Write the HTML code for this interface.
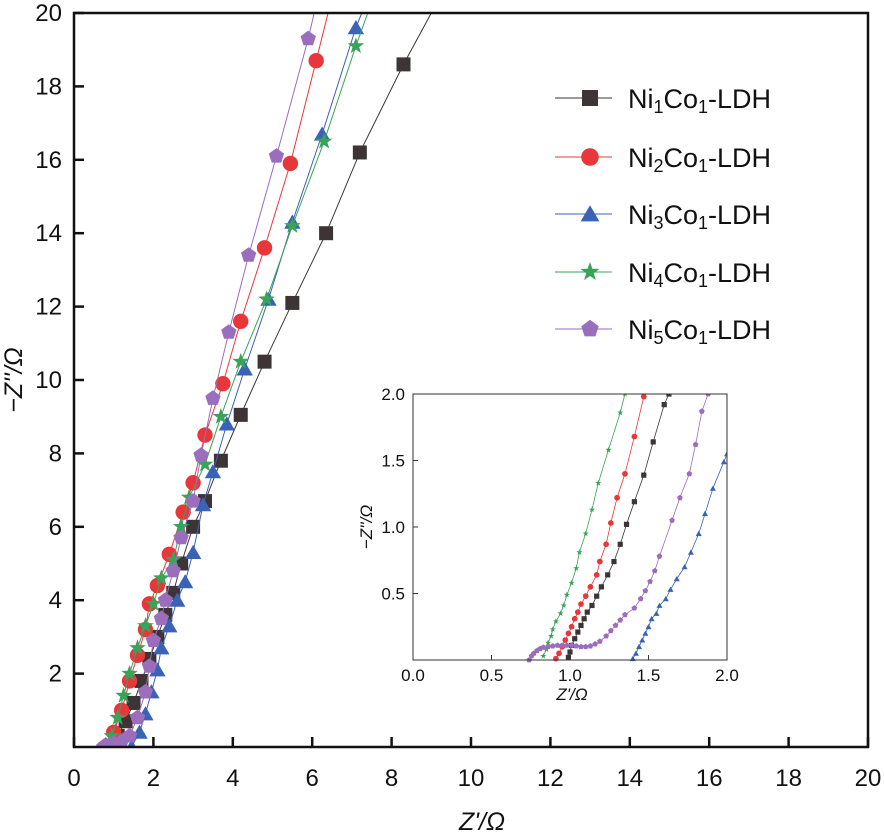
<!DOCTYPE html>
<html><head><meta charset="utf-8"><style>
body{margin:0;background:#fff}
svg text{font-family:"Liberation Sans",Arial,sans-serif;fill:#111}
</style></head><body>
<svg id="chart" width="884" height="833" xmlns="http://www.w3.org/2000/svg"></svg>
<script>
const seriesNames=["Ni1Co1-LDH","Ni2Co1-LDH","Ni3Co1-LDH","Ni4Co1-LDH","Ni5Co1-LDH"];
const colors=["#3d3535","#e8373a","#3a63b5","#3aa35a","#9a6dbd"];
const shapes=["square","circle","triangle","star","pentagon"];
const xTicks=[0,2,4,6,8,10,12,14,16,18,20];
const yTicks=[2,4,6,8,10,12,14,16,18,20];
const insetXTicks=[0,0.5,1.0,1.5,2.0];
const insetYTicks=[0.5,1.0,1.5,2.0];
const main1=[[1.0,0],[1.1,0.3],[1.3,0.7],[1.5,1.2],[1.7,1.8],[1.9,2.4],[2.1,3.0],[2.3,3.6],[2.5,4.2],[2.7,5.0],[3.0,6.0],[3.3,6.7],[3.7,7.8],[4.2,9.05],[4.8,10.5],[5.5,12.1],[6.35,14.0],[7.2,16.2],[8.3,18.6],[9.0,20]];
const main2=[[0.93,0],[1.0,0.4],[1.2,1.0],[1.4,1.8],[1.6,2.5],[1.8,3.2],[1.9,3.9],[2.1,4.4],[2.4,5.25],[2.75,6.4],[3.0,7.2],[3.3,8.5],[3.75,9.9],[4.2,11.6],[4.8,13.6],[5.45,15.9],[6.1,18.7],[6.4,20]];
const main3=[[1.45,0],[1.65,0.4],[1.8,0.9],[1.95,1.5],[2.1,2.1],[2.2,2.7],[2.4,3.3],[2.6,4.0],[2.8,4.5],[3.0,5.3],[3.25,6.6],[3.5,7.5],[3.85,8.8],[4.3,10.3],[4.9,12.2],[5.5,14.3],[6.25,16.7],[7.1,19.6],[7.25,20]];
const main4=[[0.85,0],[0.95,0.3],[1.1,0.8],[1.25,1.4],[1.4,2.0],[1.6,2.7],[1.8,3.3],[2.0,3.9],[2.2,4.6],[2.5,5.1],[2.7,6.0],[2.9,6.8],[3.3,7.7],[3.7,9.0],[4.2,10.5],[4.85,12.2],[5.5,14.2],[6.3,16.5],[7.1,19.1],[7.4,20]];
const main5=[[0.75,0],[0.8,0.05],[1.0,0.1],[1.2,0.15],[1.4,0.3],[1.6,0.8],[1.8,1.5],[1.9,2.2],[2.0,2.9],[2.2,3.5],[2.3,4.0],[2.5,4.8],[2.7,5.7],[3.0,6.7],[3.2,7.95],[3.5,9.5],[3.9,11.3],[4.4,13.4],[5.1,16.1],[5.9,19.3],[6.05,20]];
const inset1=[[0.99,0.02],[1.0,0.06],[1.01,0.11],[1.03,0.16],[1.05,0.21],[1.07,0.26],[1.09,0.31],[1.11,0.36],[1.14,0.41],[1.17,0.48],[1.2,0.55],[1.24,0.64],[1.28,0.74],[1.32,0.87],[1.36,1.02],[1.41,1.19],[1.47,1.39],[1.53,1.64],[1.6,1.92],[1.63,2.0]];
const inset2=[[0.91,0.01],[0.93,0.05],[0.95,0.1],[0.97,0.15],[0.99,0.2],[1.01,0.25],[1.03,0.31],[1.05,0.36],[1.07,0.42],[1.1,0.48],[1.13,0.55],[1.17,0.64],[1.19,0.74],[1.23,0.87],[1.26,1.03],[1.3,1.22],[1.35,1.4],[1.41,1.68],[1.47,1.98]];
const inset3=[[1.4,0.01],[1.42,0.05],[1.44,0.1],[1.46,0.15],[1.48,0.2],[1.5,0.25],[1.52,0.31],[1.55,0.35],[1.57,0.41],[1.61,0.46],[1.64,0.53],[1.68,0.61],[1.73,0.7],[1.77,0.81],[1.82,0.95],[1.86,1.1],[1.91,1.29],[1.98,1.49],[2.0,1.55]];
const inset4=[[0.83,0.03],[0.85,0.08],[0.86,0.13],[0.88,0.18],[0.89,0.23],[0.91,0.29],[0.94,0.35],[0.96,0.41],[0.98,0.49],[1.01,0.58],[1.04,0.69],[1.06,0.81],[1.1,0.95],[1.14,1.13],[1.18,1.33],[1.245,1.58],[1.32,1.86],[1.35,2.0]];
const inset5=[[0.74,0],[0.755,0.03],[0.77,0.05],[0.79,0.07],[0.81,0.085],[0.83,0.095],[0.86,0.1],[0.89,0.105],[0.92,0.11],[0.95,0.11],[0.98,0.11],[1.01,0.11],[1.04,0.105],[1.07,0.1],[1.1,0.1],[1.13,0.105],[1.16,0.12],[1.19,0.14],[1.23,0.18],[1.26,0.22],[1.29,0.26],[1.32,0.3],[1.35,0.34],[1.41,0.39],[1.45,0.46],[1.48,0.52],[1.51,0.59],[1.54,0.67],[1.57,0.78],[1.65,1.05],[1.7,1.22],[1.76,1.4],[1.8,1.62],[1.84,1.87],[1.88,2.0]];
const mainData=[main1,main2,main3,main4,main5];
const insetData=[inset1,inset2,inset3,inset4,inset5];

const svg=document.getElementById('chart');
const NS="http://www.w3.org/2000/svg";
function mk(t,a,p){const e=document.createElementNS(NS,t);for(const k in a)e.setAttribute(k,a[k]);(p||svg).appendChild(e);return e;}
function marker(shape,cx,cy,r,col,parent){
  let e;
  if(shape==="square")e=mk('rect',{x:cx-r,y:cy-r,width:2*r,height:2*r,fill:col},parent);
  else if(shape==="circle")e=mk('circle',{cx:cx,cy:cy,r:r*1.1,fill:col},parent);
  else{
    let n=shape==="triangle"?3:shape==="pentagon"?5:10,pts=[];
    for(let i=0;i<n;i++){let a=-Math.PI/2+i*2*Math.PI/n;let rr=shape==="star"?(i%2?r*0.5:r*1.25):(shape==="triangle"?r*1.35:r*1.15);pts.push((cx+rr*Math.cos(a)).toFixed(1)+","+(cy+rr*Math.sin(a)+(shape==="triangle"?r*0.25:0)).toFixed(1));}
    e=mk('polygon',{points:pts.join(' '),fill:col},parent);
  }
  return e;
}
const M={x0:74,x1:868,y0:747,y1:13};
const mx=v=>M.x0+(v-0)/20*(M.x1-M.x0);
const my=v=>M.y0-(v/20)*(M.y0-M.y1);
const clipM=mk('clipPath',{id:'cm'});mk('rect',{x:M.x0,y:M.y1-10,width:M.x1-M.x0,height:M.y0-M.y1+10},clipM);
mainData.forEach((d,i)=>{
  const g=mk('g',{'clip-path':'url(#cm)'});
  
  
  mk('polyline',{points:d.map(p=>mx(p[0])+','+my(p[1])).join(' '),fill:'none',stroke:colors[i],'stroke-width':1},g);
  d.forEach(p=>{if(p[1]<20){const m=marker(shapes[i],mx(p[0]),my(p[1]),7,colors[i],g);}});
});
const frame=mk('rect',{x:M.x0,y:M.y1,width:M.x1-M.x0,height:M.y0-M.y1,fill:'none',stroke:'#111','stroke-width':2.5});

xTicks.forEach(t=>{const x=mx(t);mk('line',{x1:x,y1:M.y0,x2:x,y2:M.y0-10,stroke:'#111','stroke-width':2.5});
  const tx=mk('text',{x:x,y:786,'text-anchor':'middle','font-size':24});tx.textContent=t;});
yTicks.forEach(t=>{const y=my(t);mk('line',{x1:M.x0,y1:y,x2:M.x0+10,y2:y,stroke:'#111','stroke-width':2.5});
  const tx=mk('text',{x:62,y:y+8,'text-anchor':'end','font-size':24});tx.textContent=t;});
let xt=mk('text',{x:482,y:830,'text-anchor':'middle','font-size':25,'font-style':'italic'});xt.textContent="Z'/Ω";
let yt=mk('text',{x:22,y:380,'text-anchor':'middle','font-size':25,'font-style':'italic',transform:'rotate(-90 22 380)'});yt.textContent="−Z''/Ω";
const legY=[98,157,214,272,329];
seriesNames.forEach((n,i)=>{
  const g=mk('g',{});
  mk('line',{x1:555,y1:legY[i],x2:612,y2:legY[i],stroke:colors[i],'stroke-width':1},g);
  marker(shapes[i],590,legY[i],8,colors[i],g);
  const t=mk('text',{x:628,y:legY[i]+10,'font-size':27},g);
  const m=n.match(/Ni(\d)Co(\d)-LDH/);
  t.innerHTML='Ni<tspan font-size="18" dy="5">'+m[1]+'</tspan><tspan dy="-5">Co</tspan><tspan font-size="18" dy="5">'+m[2]+'</tspan><tspan dy="-5">-LDH</tspan>';
});
const I={x0:413,x1:727,y0:660,y1:394};
const ix=v=>I.x0+v/2*(I.x1-I.x0);
const iy=v=>I.y0-v/2*(I.y0-I.y1);
const bg=mk('rect',{x:I.x0,y:I.y1,width:I.x1-I.x0,height:I.y0-I.y1,fill:'#fff'});
const clipI=mk('clipPath',{id:'ci'});mk('rect',{x:I.x0,y:I.y1,width:I.x1-I.x0,height:I.y0-I.y1+4},clipI);
insetData.forEach((d,i)=>{
  const g=mk('g',{'clip-path':'url(#ci)'});
  
  
  mk('polyline',{points:d.map(p=>ix(p[0])+','+iy(p[1])).join(' '),fill:'none',stroke:colors[i],'stroke-width':0.8},g);
  d.forEach(p=>{const m=marker(shapes[i],ix(p[0]),iy(p[1]),2.6,colors[i],g);});
});
const iframe=mk('rect',{x:I.x0,y:I.y1,width:I.x1-I.x0,height:I.y0-I.y1,fill:'none',stroke:'#333','stroke-width':1});

insetXTicks.forEach(t=>{const x=ix(t);mk('line',{x1:x,y1:I.y0,x2:x,y2:I.y0-5,stroke:'#333'});
  const tx=mk('text',{x:x,y:681,'text-anchor':'middle','font-size':17});tx.textContent=t.toFixed(1);});
insetYTicks.forEach(t=>{const y=iy(t);mk('line',{x1:I.x0,y1:y,x2:I.x0+5,y2:y,stroke:'#333'});
  const tx=mk('text',{x:405,y:y+6,'text-anchor':'end','font-size':17});tx.textContent=t.toFixed(1);});
let ixt=mk('text',{x:572,y:700,'text-anchor':'middle','font-size':17,'font-style':'italic'});ixt.textContent="Z'/Ω";
let iyt=mk('text',{x:372,y:527,'text-anchor':'middle','font-size':17,'font-style':'italic',transform:'rotate(-90 372 527)'});iyt.textContent="−Z''/Ω";
</script>
</body></html>
